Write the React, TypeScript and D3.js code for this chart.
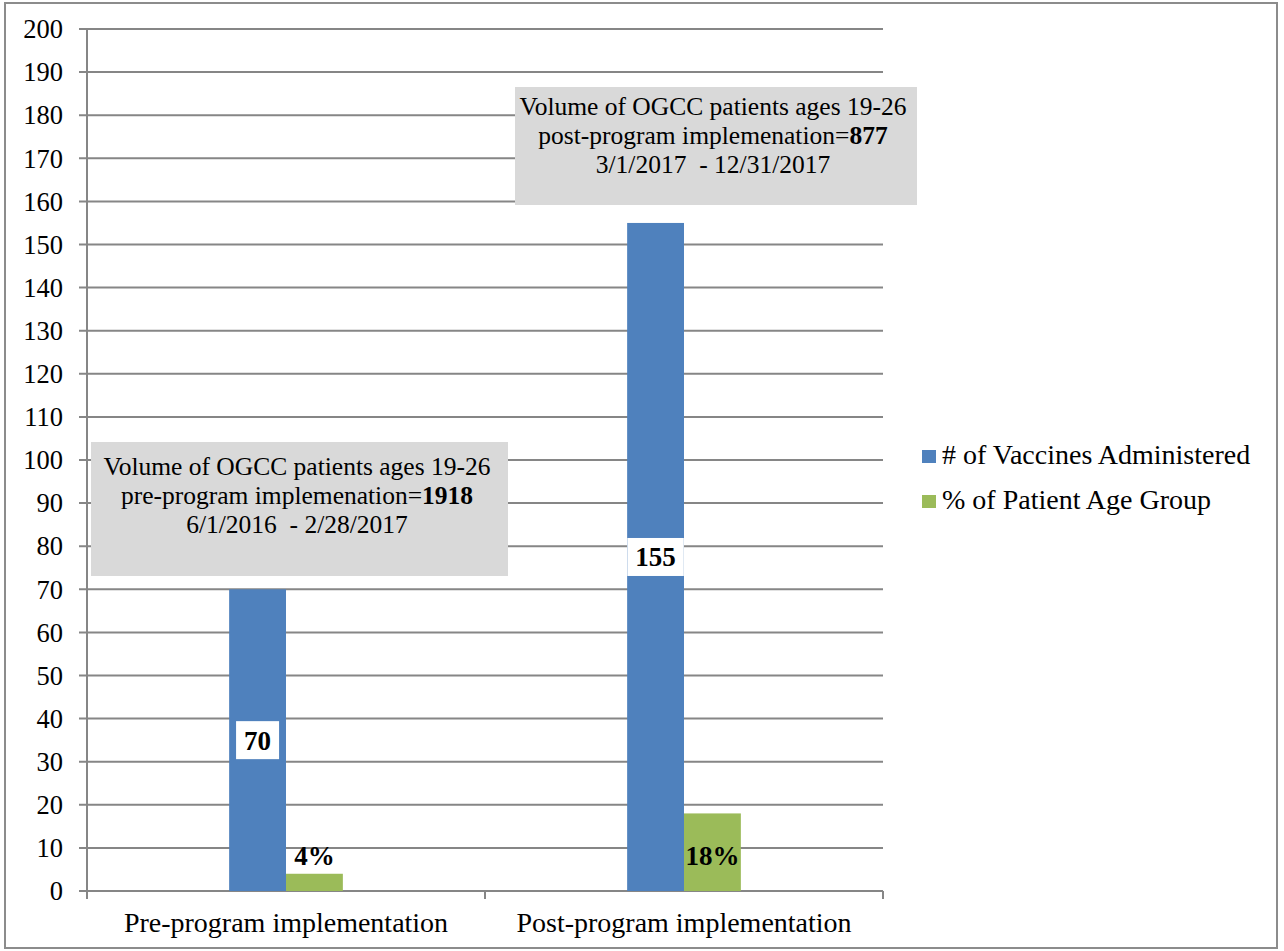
import React from "react";
import * as d3 from "d3";

const categories = ["Pre-program implementation", "Post-program implementation"];
const seriesNames = ["# of Vaccines Administered", "% of Patient Age Group"];
const vaccines = [70, 155];
const percentValues = [4, 18];
const percentLabels = ["4%", "18%"];
const yTicks = d3.range(0, 201, 10);
const colors = ["#4F81BD", "#9BBB59"];

const annotations = [
  { lines: [["Volume of OGCC patients ages 19-26", ""], ["pre-program implemenation=", "1918"], ["6/1/2016  - 2/28/2017", ""]] },
  { lines: [["Volume of OGCC patients ages 19-26", ""], ["post-program implemenation=", "877"], ["3/1/2017  - 12/31/2017", ""]] },
];

const W = 1284, H = 951;
const left = 87, right = 883, top = 29, bottom = 891;
const FONT = "Liberation Serif";
const GRID = "#868686";

export default function App() {
  const y = d3.scaleLinear().domain([0, 200]).range([bottom, top]);
  const x = d3.scaleBand<string>().domain(categories).range([left, right]).padding(0);
  const bw = x.bandwidth() / 7;
  const inner = d3.scaleBand<string>().domain(seriesNames).range([-bw, bw]).padding(0);

  const boxes = [
    { x: 91, y: 442, w: 417, h: 134, cx: 297, base: 475 },
    { x: 515, y: 87, w: 402, h: 118, cx: 713, base: 115 },
  ];

  return (
    <svg width={W} height={H} style={{ position: "absolute", left: 0, top: 0, background: "#fff" }}>
      <rect x={5} y={3} width={1272} height={945} fill="#fff" stroke="#8c8c8c" strokeWidth={2} />
      {yTicks.map((t) => (
        <g key={t}>
          <line x1={left - 8} x2={right} y1={y(t)} y2={y(t)} stroke={GRID} strokeWidth={2} />
          <text x={63} y={y(t)} dy="0.35em" textAnchor="end" fontFamily={FONT} fontSize={26.5} fill="#000">{t}</text>
        </g>
      ))}
      <line x1={left} x2={left} y1={top} y2={bottom + 8} stroke={GRID} strokeWidth={2} />
      {[left, ...categories.map((c) => (x(c) as number) + x.bandwidth())].map((xx, i) => (
        <line key={i} x1={xx} x2={xx} y1={bottom} y2={bottom + 8} stroke={GRID} strokeWidth={2} />
      ))}
      {categories.map((c, i) => {
        const cx = (x(c) as number) + x.bandwidth() / 2;
        const bx = cx + (inner(seriesNames[0]) as number);
        const gx = cx + (inner(seriesNames[1]) as number);
        return (
          <g key={c}>
            <rect x={bx} y={y(vaccines[i])} width={inner.bandwidth()} height={bottom - y(vaccines[i])} fill={colors[0]} />
            <rect x={gx} y={y(percentValues[i])} width={inner.bandwidth()} height={bottom - y(percentValues[i])} fill={colors[1]} />
            <text x={cx} y={932} textAnchor="middle" fontFamily={FONT} fontSize={28} fill="#000">{c}</text>
          </g>
        );
      })}
      {categories.map((c, i) => {
        const cx = (x(c) as number) + x.bandwidth() / 2;
        const bx = cx + (inner(seriesNames[0]) as number) + inner.bandwidth() / 2;
        const gx = cx + (inner(seriesNames[1]) as number) + inner.bandwidth() / 2;
        const label = String(vaccines[i]);
        const tw = label.length * 13.5 + 16;
        const ly = y(vaccines[i] / 2);
        return (
          <g key={"l" + c}>
            <rect x={bx - tw / 2} y={ly - 19} width={tw} height={38} fill="#fff" />
            <text x={bx} y={ly} dy="0.35em" textAnchor="middle" fontFamily={FONT} fontSize={27} fontWeight="bold" fill="#000">{label}</text>
            <text x={gx} y={y(8.3)} dy="0.35em" textAnchor="middle" fontFamily={FONT} fontSize={27} fontWeight="bold" fill="#000">{percentLabels[i]}</text>
          </g>
        );
      })}
      {annotations.map((a, i) => {
        const b = boxes[i];
        return (
          <g key={"a" + i}>
            <rect x={b.x} y={b.y} width={b.w} height={b.h} fill="#D9D9D9" />
            {a.lines.map((ln, j) => (
              <text key={j} x={b.cx} y={b.base + j * 29} textAnchor="middle" fontFamily={FONT} fontSize={25.5} fill="#000" style={{ whiteSpace: "pre" }}>
                {ln[0]}
                {ln[1] && <tspan fontWeight="bold">{ln[1]}</tspan>}
              </text>
            ))}
          </g>
        );
      })}
      {seriesNames.map((s, i) => (
        <g key={s}>
          <rect x={922} y={450 + i * 45} width={14} height={13} fill={colors[i]} />
          <text x={942} y={464 + i * 45} fontFamily={FONT} fontSize={28} fill="#000">{s}</text>
        </g>
      ))}
    </svg>
  );
}
